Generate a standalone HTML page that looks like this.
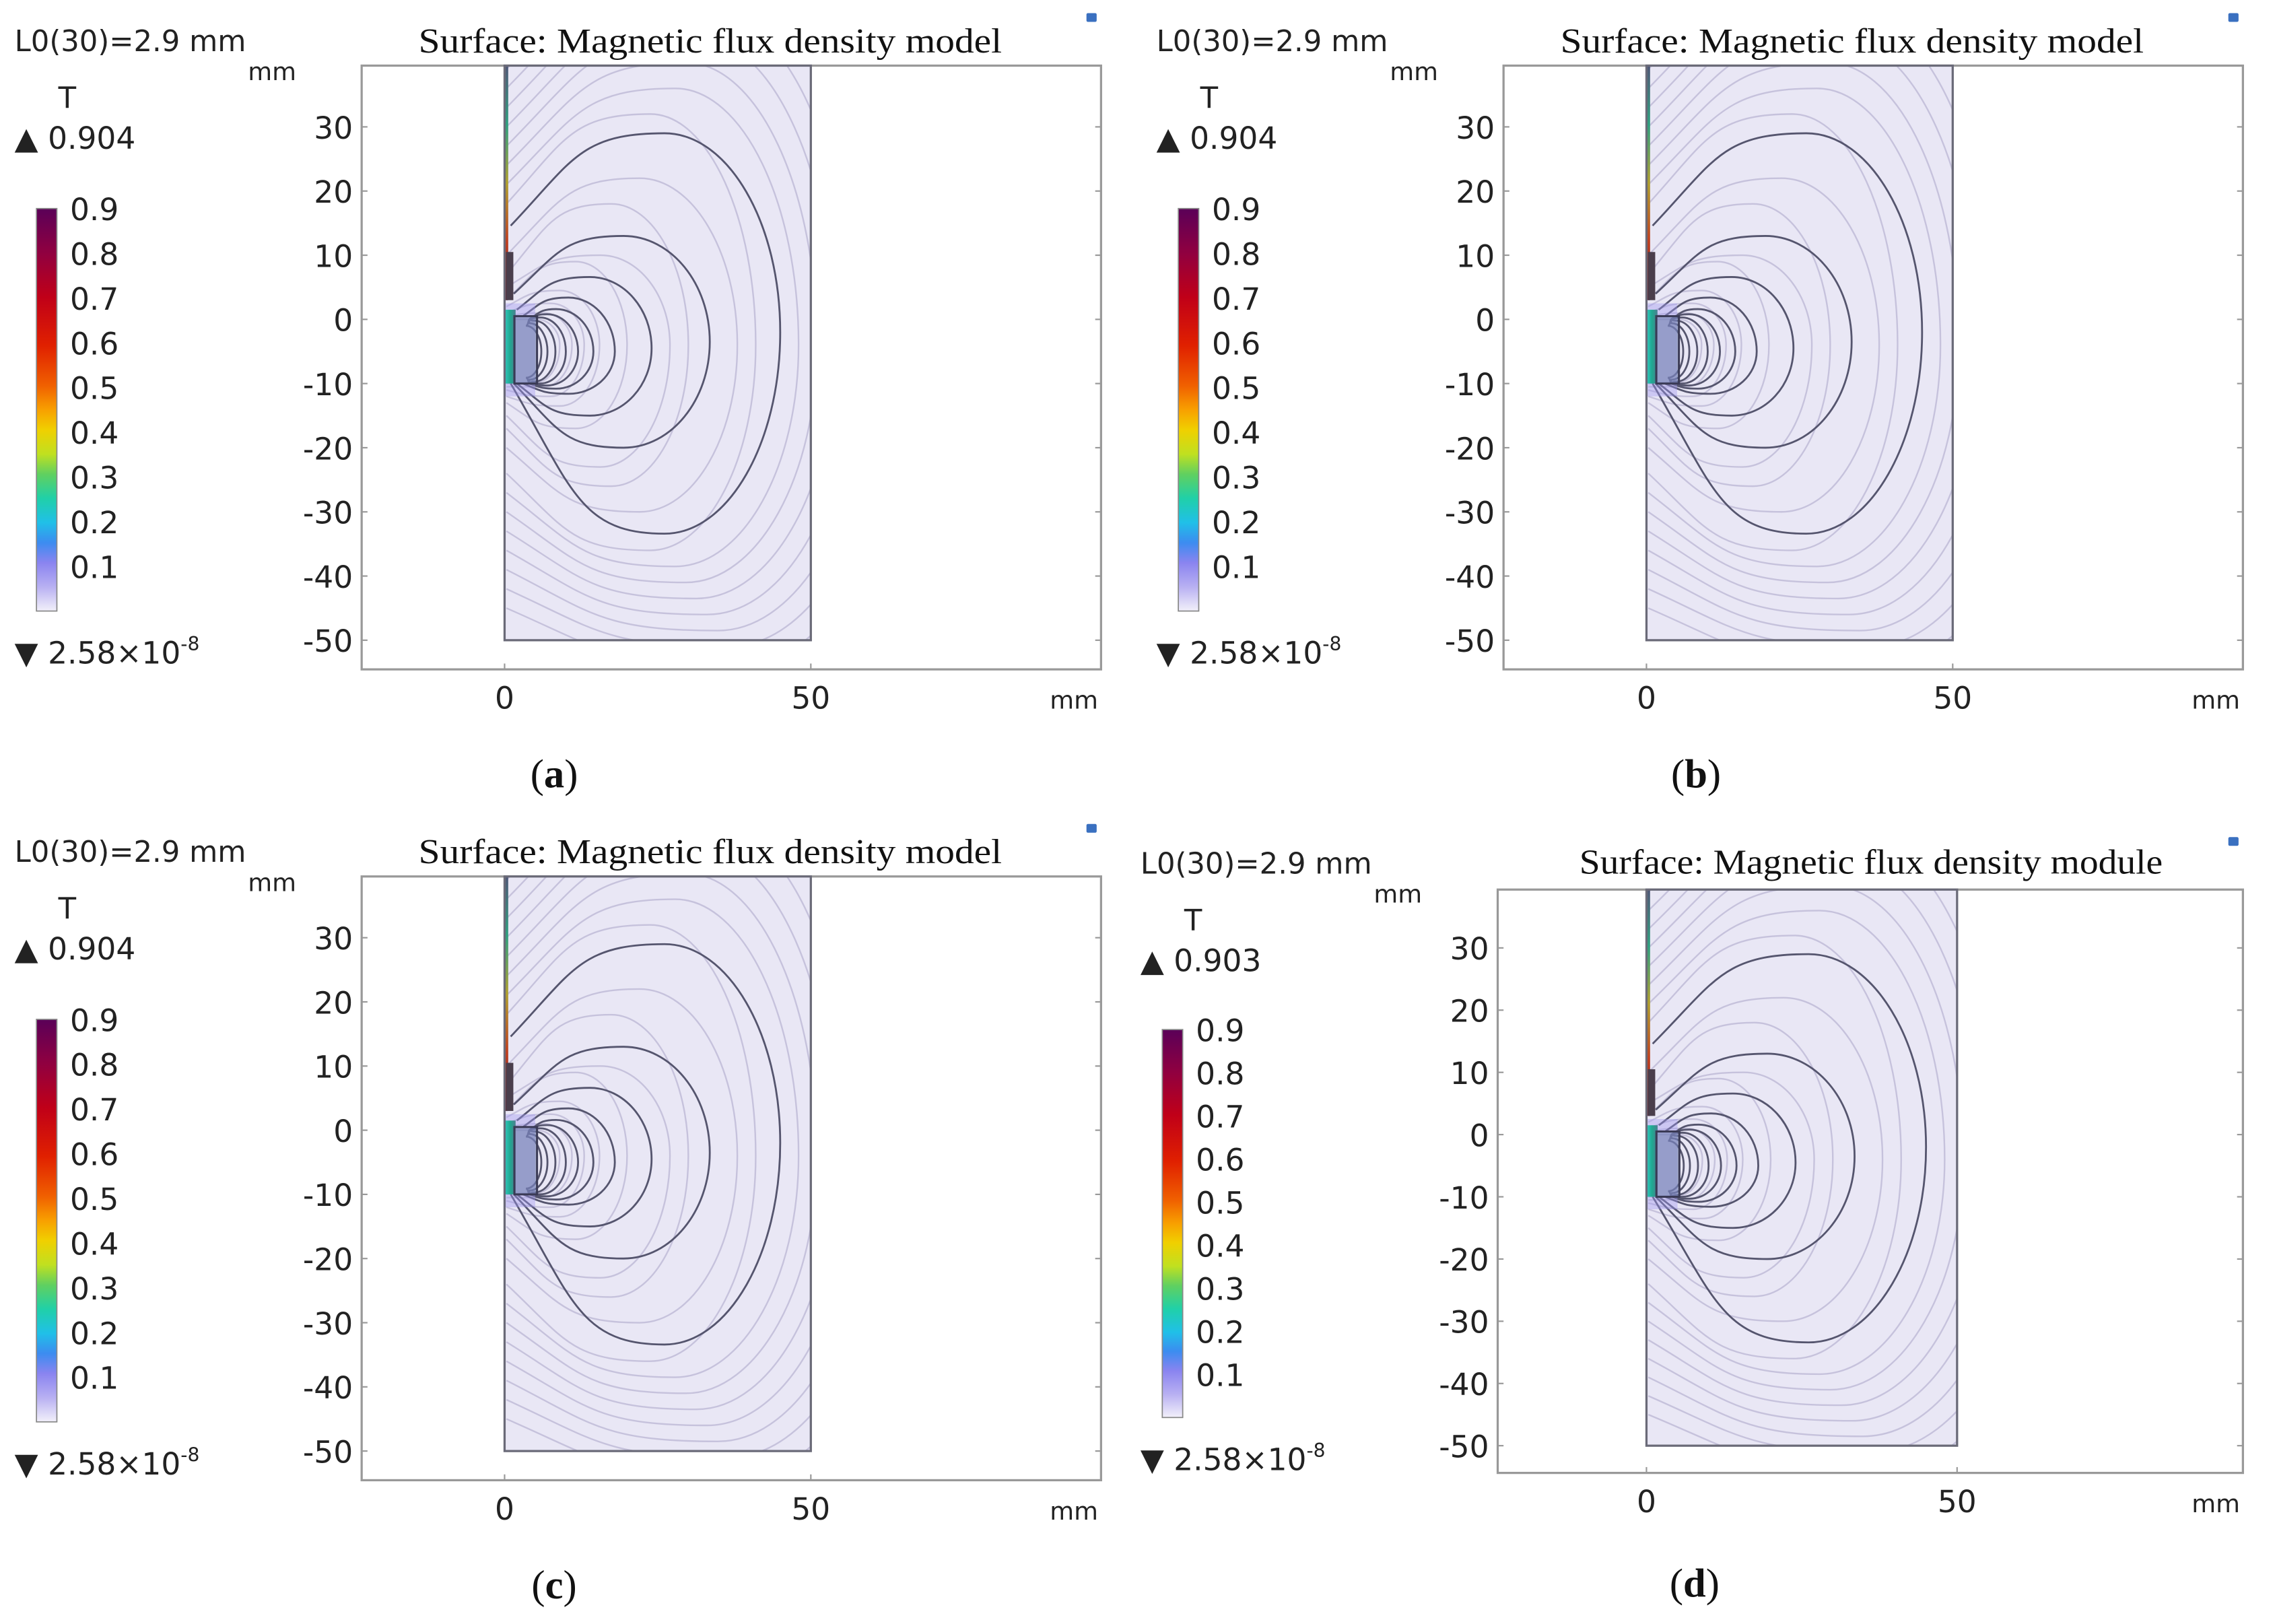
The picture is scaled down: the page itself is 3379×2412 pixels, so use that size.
<!DOCTYPE html>
<html><head><meta charset="utf-8"><style>
html,body{margin:0;padding:0;background:#fff;}
svg{display:block;}
.sans{font-family:"DejaVu Sans","Liberation Sans",sans-serif;fill:#222;}
.serif{font-family:"Liberation Serif",serif;fill:#111;}
</style></head><body>
<svg id="fig" xmlns="http://www.w3.org/2000/svg" width="3379" height="2412" viewBox="0 0 1560 1113.6" preserveAspectRatio="none">
<defs>
<linearGradient id="cbar" x1="0" y1="1" x2="0" y2="0">
<stop offset="0" stop-color="#f2f0fa"/><stop offset="0.06" stop-color="#b8b0f2"/>
<stop offset="0.12" stop-color="#8a84f0"/><stop offset="0.17" stop-color="#3c8cf0"/>
<stop offset="0.22" stop-color="#20c0e8"/><stop offset="0.28" stop-color="#20d0a8"/>
<stop offset="0.34" stop-color="#60d060"/><stop offset="0.39" stop-color="#c0e020"/>
<stop offset="0.45" stop-color="#f0d000"/><stop offset="0.5" stop-color="#f8a000"/>
<stop offset="0.56" stop-color="#f06000"/><stop offset="0.66" stop-color="#e02000"/>
<stop offset="0.78" stop-color="#c00018"/><stop offset="0.89" stop-color="#900040"/>
<stop offset="1" stop-color="#5a0058"/>
</linearGradient>
<linearGradient id="strip" x1="0" y1="0" x2="0" y2="1">
<stop offset="0" stop-color="#505878"/><stop offset="0.25" stop-color="#30a080"/>
<stop offset="0.5" stop-color="#b0a030"/><stop offset="0.75" stop-color="#c04020"/>
<stop offset="1" stop-color="#702030"/>
</linearGradient>
<linearGradient id="mag" x1="0" y1="0" x2="1" y2="0">
<stop offset="0" stop-color="#30c8c0"/><stop offset="0.5" stop-color="#20a890"/><stop offset="1" stop-color="#4a8090"/>
</linearGradient>
</defs>
</svg>
<script>
// Dark field-line loops (mm)
const darkXr   = [45, 33.5, 24, 18, 14.5, 12, 10, 8.3, 7, 6];
const darkYtop = [29, 13, 6.6, 3.4, 1.6, 0.8, 0.3, -0.2, -0.6, -1];
const darkYbot = [-33.4, -20, -15, -11.6, -10.8, -10.3, -10, -9.7, -9.4, -9.1];
const darkYc   = [-2, -3.5, -4.5, -5, -5, -5, -5, -5, -5, -5];
const darkYs   = [14.6, 4, 1.5, 0.5, 0, 0, 0, 0, 0, 0];
const darkYe   = [-10, -10, -10, -10, -10, -10, -10, -10, -10, -10];
const darkXs   = [1, 1.5, 2, 3, 4, 4, 4, 4, 4, 4];
// Light field-line loops
const lightXr   = [9, 11, 13, 15.5, 20, 27, 30, 38, 41, 48, 51, 54, 57, 60, 63, 66];
const lightYtop = [0, 1, 2.5, 4.5, 9, 10, 18, 22, 32, 36, 40, 44, 48, 52, 56, 60];
const lightYbot = [-9.8, -10.5, -12, -13.5, -17, -23, -26, -30, -36, -38.5, -41, -43.5, -46, -48.5, -51, -54];
const lightYs   = [0, 0.5, 1, 2, 3, 5, 7, 10, 18, 21, 24, 27, 30, 33, 36, 39];
const lightYe   = [-10, -10.5, -11, -12, -13, -15, -17, -20, -24, -27, -30, -33, -36, -39, -42, -45];
// Axis ticks and colorbar
const yTicks = [30, 20, 10, 0, -10, -20, -30, -40, -50];
const xTicks = [0, 50];
const cbTicks = [0.9, 0.8, 0.7, 0.6, 0.5, 0.4, 0.3, 0.2, 0.1];
const panelLabels = ["(a)", "(b)", "(c)", "(d)"];
const maxVals = ["0.904", "0.904", "0.904", "0.903"];
const titles = ["Surface: Magnetic flux density model","Surface: Magnetic flux density model","Surface: Magnetic flux density model","Surface: Magnetic flux density module"];

const NS = "http://www.w3.org/2000/svg";
const svg = document.getElementById("fig");
function mk(tag, attrs, parent, text) {
  const e = document.createElementNS(NS, tag);
  for (const k in attrs) e.setAttribute(k, attrs[k]);
  if (text !== undefined) e.textContent = text;
  (parent || svg).appendChild(e);
  return e;
}
const geoms = [
  {ox:0, oy:0, fl:248, ft:45, fr:755, fb:459, x0:346, x50:556, y0:219, y30:87, cbx:25, cbt:143, cbb:419, lx:10, ly:35, labx:380, laby:540, tcx:487, tcy:36},
  {ox:783, oy:0, fl:248, ft:45, fr:755, fb:459, x0:346, x50:556, y0:219, y30:87, cbx:25, cbt:143, cbb:419, lx:10, ly:35, labx:380, laby:540, tcx:487, tcy:36},
  {ox:0, oy:556, fl:248, ft:45, fr:755, fb:459, x0:346, x50:556, y0:219, y30:87, cbx:25, cbt:143, cbb:419, lx:10, ly:35, labx:380, laby:540, tcx:487, tcy:36},
  {ox:0, oy:0, fl:1027, ft:610, fr:1538, fb:1010, x0:1129, x50:1342, y0:778, y30:650, cbx:797, cbt:706, cbb:972, lx:782, ly:599, labx:1162, laby:1095, tcx:1283, tcy:599}
];
geoms.forEach((g, i) => {
  const G = mk("g", {transform:`translate(${g.ox},${g.oy})`});
  
  
  const sx = (g.x50 - g.x0) / 50, sy = (g.y0 - g.y30) / 30;
  const X = v => g.x0 + v * sx, Y = v => g.y0 - v * sy;
  const yBot = Y(-50);
  const t1 = mk("text", {x:g.lx, y:g.ly, class:"sans", "font-size":20}, G, "L0(30)=2.9 mm");
   
  const t2 = mk("text", {x:g.lx+160, y:g.ly+20, class:"sans", "font-size":17}, G, "mm");
   
  const t3 = mk("text", {x:g.lx+30, y:g.ly+39, class:"sans", "font-size":20}, G, "T");
   
  const t4 = mk("text", {x:g.lx, y:g.ly+67, class:"sans", "font-size":21}, G, "▲ " + maxVals[i]);
   
  const t5 = mk("text", {x:g.lx, y:g.cbb+36, class:"sans", "font-size":21}, G, "▼ 2.58×10");
   
  mk("tspan", {dy:-9, "font-size":13}, t5, "-8");
  const cb = mk("rect", {x:g.cbx, y:g.cbt, width:14, height:g.cbb-g.cbt, fill:"url(#cbar)", stroke:"#888", "stroke-width":0.8}, G);
   
  const cbs = (g.cbb - g.cbt) / 0.9;
  cbTicks.forEach(v => {
    const ct = mk("text", {x:g.cbx+23, y:g.cbb - v*cbs + 8, class:"sans", "font-size":21}, G, v.toFixed(1));
     
  });
  const tt = mk("text", {x:g.tcx, y:g.tcy, class:"serif", "font-size":24, "text-anchor":"middle", textLength:400, lengthAdjust:"spacingAndGlyphs"}, G, titles[i]);
   
  const ic = mk("rect", {x:g.fr-10, y:g.ft-36, width:7, height:6, fill:"#3a70c0", rx:1}, G);
   
  const fr = mk("rect", {x:g.fl, y:g.ft, width:g.fr-g.fl, height:g.fb-g.ft, fill:"#fff", stroke:"#999", "stroke-width":1.5}, G);
   
  const cid = "clip" + i;
  const cp = mk("clipPath", {id:cid}, G);
  mk("rect", {x:X(0), y:g.ft, width:X(50)-X(0), height:yBot-g.ft}, cp);
  const dom = mk("rect", {x:X(0), y:g.ft, width:X(50)-X(0), height:yBot-g.ft, fill:"#e9e7f5"}, G);
   
  const L = mk("g", {"clip-path":`url(#${cid})`, fill:"none"}, G);
  function loop(xs, ys, xr, yt, yb, yc, ye) {
    const xt = 0.58 * xr, xb = 0.58 * xr;
    return `M${X(xs)},${Y(ys)} C${X(xs+(xt-xs)*0.4)},${Y(ys+(yt-ys)*0.7)} ${X(xt-(xt-xs)*0.55)},${Y(yt)} ${X(xt)},${Y(yt)}`
      + ` C${X(xt+(xr-xt)*0.55)},${Y(yt)} ${X(xr)},${Y(yc+(yt-yc)*0.55)} ${X(xr)},${Y(yc)}`
      + ` C${X(xr)},${Y(yc+(yb-yc)*0.55)} ${X(xb+(xr-xb)*0.55)},${Y(yb)} ${X(xb)},${Y(yb)}`
      + ` C${X(xb-(xb-xs)*0.55)},${Y(yb)} ${X(xs+(xb-xs)*0.4)},${Y(ye+(yb-ye)*0.7)} ${X(xs)},${Y(ye)}`;
  }
  lightXr.forEach((xr, k) => {
    const p = mk("path", {d:loop(0.3, lightYs[k], xr, lightYtop[k], lightYbot[k], -4, lightYe[k]), stroke:"#c6c2dc", "stroke-width":1.1}, L);
     
  });
  darkXr.forEach((xr, k) => {
    const p = mk("path", {d:loop(darkXs[k], darkYs[k], xr, darkYtop[k], darkYbot[k], darkYc[k], darkYe[k]), stroke:"#55556e", "stroke-width":1.3}, L);
     
  });
  const st = mk("rect", {x:X(0), y:g.ft, width:2.5, height:Y(3)-g.ft, fill:"url(#strip)"}, G);
   
  mk("rect", {x:X(0)+1, y:Y(10.5), width:5, height:Y(3)-Y(10.5), fill:"#4a3e4c"}, G);
  const glow = mk("rect", {x:X(0), y:Y(2.5), width:X(5)-X(0), height:Y(-12)-Y(2.5), fill:"#a098f0", opacity:0.4}, G);
   
  mk("rect", {x:X(0), y:Y(1.5), width:X(1.8)-X(0), height:Y(-10)-Y(1.5), fill:"url(#mag)"}, G);
  const mg = mk("rect", {x:X(1.6), y:Y(0.5), width:X(5.3)-X(1.6), height:Y(-10)-Y(0.5), fill:"#6a7aa8", "fill-opacity":0.55, stroke:"#3a3a55", "stroke-width":1.4}, G);
   
  const db = mk("rect", {x:X(0), y:g.ft, width:X(50)-X(0), height:yBot-g.ft, fill:"none", stroke:"#6a6a78", "stroke-width":1.5}, G);
   
  yTicks.forEach(v => {
    mk("line", {x1:g.fl, x2:g.fl+4, y1:Y(v), y2:Y(v), stroke:"#999"}, G);
    mk("line", {x1:g.fr-4, x2:g.fr, y1:Y(v), y2:Y(v), stroke:"#999"}, G);
    const yl = mk("text", {x:g.fl-6, y:Y(v)+8, class:"sans", "font-size":21, "text-anchor":"end"}, G, String(v));
     
  });
  xTicks.forEach(v => {
    mk("line", {x1:X(v), x2:X(v), y1:g.fb-4, y2:g.fb, stroke:"#999"}, G);
    const xl = mk("text", {x:X(v), y:g.fb+27, class:"sans", "font-size":21, "text-anchor":"middle"}, G, String(v));
     
  });
  const xu = mk("text", {x:g.fr-2, y:g.fb+27, class:"sans", "font-size":17, "text-anchor":"end"}, G, "mm");
   
  const pl = mk("text", {x:g.labx, y:g.laby, class:"serif", "font-size":28, "text-anchor":"middle"}, G, "(");
   
  mk("tspan", {"font-weight":"bold"}, pl, panelLabels[i].slice(1, 2));
  mk("tspan", {}, pl, ")");
});
</script>
</body></html>
